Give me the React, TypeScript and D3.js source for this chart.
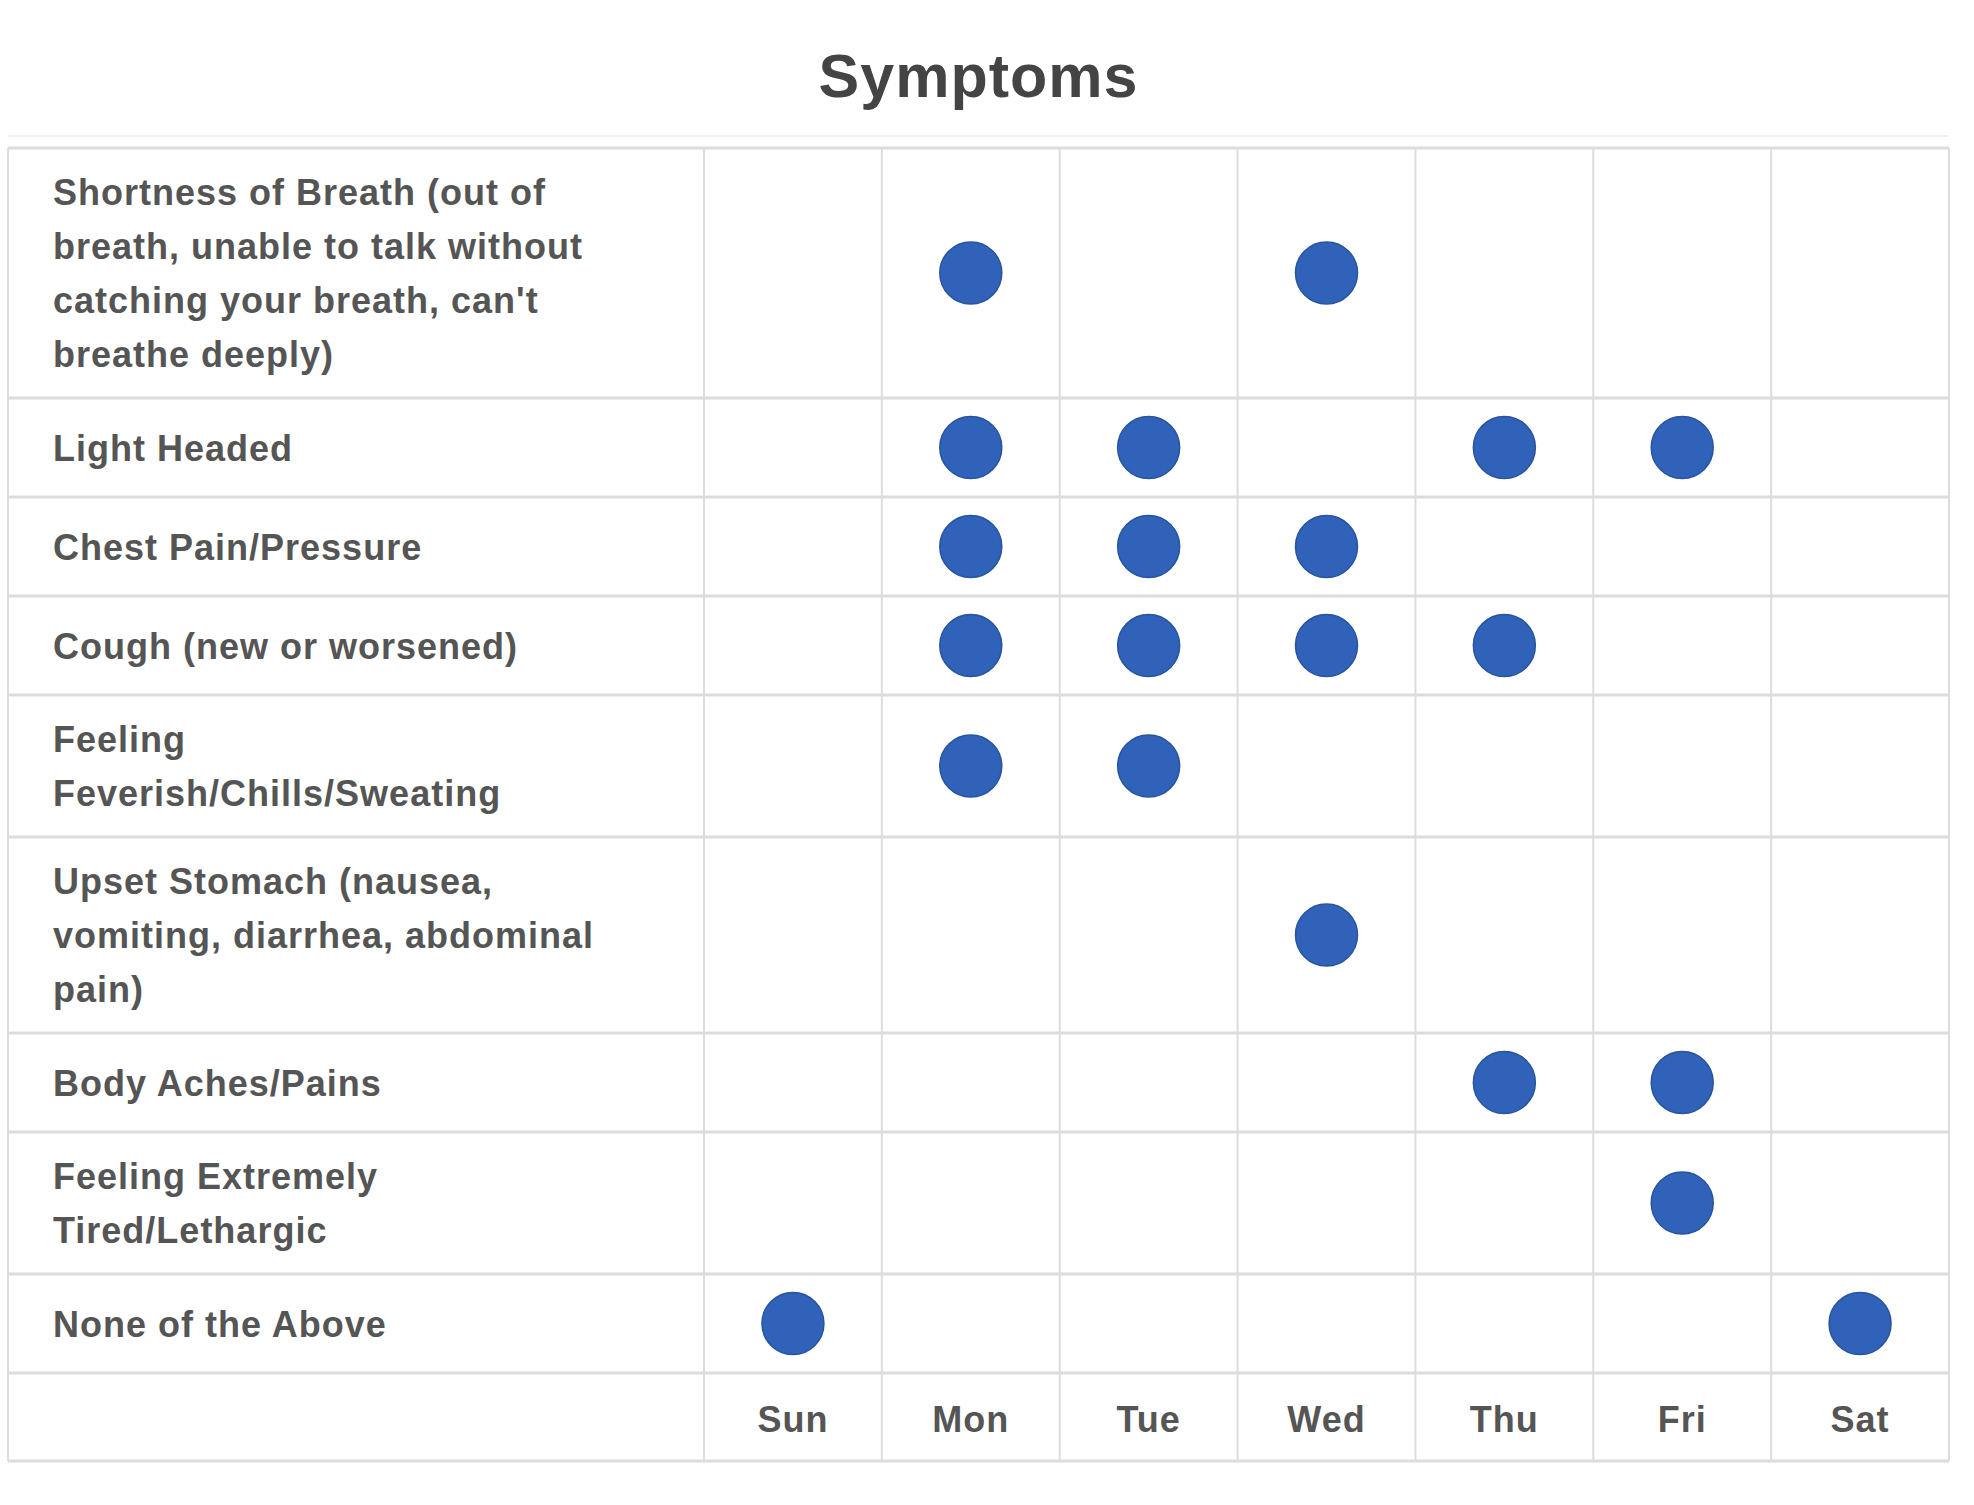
import React from "react";
import * as d3 from "d3";

const days = ["Sun", "Mon", "Tue", "Wed", "Thu", "Fri", "Sat"];

const symptomLines = [
  ["Shortness of Breath (out of", "breath, unable to talk without", "catching your breath, can't", "breathe deeply)"],
  ["Light Headed"],
  ["Chest Pain/Pressure"],
  ["Cough (new or worsened)"],
  ["Feeling", "Feverish/Chills/Sweating"],
  ["Upset Stomach (nausea,", "vomiting, diarrhea, abdominal", "pain)"],
  ["Body Aches/Pains"],
  ["Feeling Extremely", "Tired/Lethargic"],
  ["None of the Above"],
];

// days on which each symptom was reported (same order as symptomLines)
const reported = [
  ["Mon", "Wed"],
  ["Mon", "Tue", "Thu", "Fri"],
  ["Mon", "Tue", "Wed"],
  ["Mon", "Tue", "Wed", "Thu"],
  ["Mon", "Tue"],
  ["Wed"],
  ["Thu", "Fri"],
  ["Fri"],
  ["Sun", "Sat"],
];

const W = 1974;
const H = 1505;
const tableLeft = 8;
const tableRight = 1949;
const tableTop = 148;
const labelCol = 704;
const lineH = 54;
const fontFamily = "'Liberation Sans', Arial, Helvetica, sans-serif";

export default function App() {
  const rowHeights = symptomLines.map((l) => Math.max(99, 34 + lineH * l.length));
  const headerH = 34 + lineH;
  const rowTops = [tableTop, ...Array.from(d3.cumsum(rowHeights), (c) => tableTop + c)];
  const tableBottom = rowTops[rowTops.length - 1] + headerH;

  const x = d3.scaleBand().domain(days).range([labelCol, tableRight]);
  const y = d3
    .scaleOrdinal<number, number>()
    .domain(d3.range(symptomLines.length))
    .range(rowHeights.map((h, i) => rowTops[i] + h / 2));

  const dots = reported.flatMap((ds, i) => ds.map((d) => ({ row: i, day: d })));
  const headerMid = rowTops[rowTops.length - 1] + headerH / 2;

  return (
    <div style={{ position: "absolute", left: 0, top: 0 }}>
      <svg width={W} height={H} style={{ display: "block", background: "#fff" }}>
        <text
          x={(tableLeft + tableRight) / 2}
          y={97}
          textAnchor="middle"
          fontFamily={fontFamily}
          fontWeight="bold"
          fontSize={61}
          letterSpacing={1}
          fill="#444"
        >
          Symptoms
        </text>

        {/* faint line above the table */}
        <line x1={tableLeft} x2={tableRight} y1={136} y2={136} stroke="#f2f2f2" strokeWidth={2} />

        {/* horizontal rules */}
        {rowTops.map((t, i) => (
          <line key={"h" + i} x1={tableLeft} x2={tableRight} y1={t} y2={t} stroke="#dcdcdc" strokeWidth={3} />
        ))}
        <line x1={tableLeft} x2={tableRight} y1={tableBottom} y2={tableBottom} stroke="#dcdcdc" strokeWidth={3} />

        {/* vertical rules */}
        {[tableLeft, labelCol, ...days.map((d) => (x(d) as number) + x.bandwidth())].map((vx, i) => (
          <line key={"v" + i} x1={vx} x2={vx} y1={tableTop} y2={tableBottom} stroke="#dcdcdc" strokeWidth={2} />
        ))}

        {/* symptom labels */}
        {symptomLines.map((lines, i) => {
          const mid = y(i);
          const first = mid - ((lines.length - 1) * lineH) / 2;
          return (
            <text
              key={"l" + i}
              fontFamily={fontFamily}
              fontWeight="bold"
              fontSize={36}
              letterSpacing={1}
              fill="#555"
            >
              {lines.map((ln, j) => (
                <tspan key={j} x={53} y={first + j * lineH + 13}>
                  {ln}
                </tspan>
              ))}
            </text>
          );
        })}

        {/* dots */}
        {dots.map((d, i) => (
          <circle
            key={"c" + i}
            cx={(x(d.day) as number) + x.bandwidth() / 2}
            cy={y(d.row)}
            r={31}
            fill="#2f62b8"
            stroke="#27549f"
            strokeWidth={1.5}
          />
        ))}

        {/* day labels */}
        {days.map((d) => (
          <text
            key={d}
            x={(x(d) as number) + x.bandwidth() / 2}
            y={headerMid + 15}
            textAnchor="middle"
            fontFamily={fontFamily}
            fontWeight="bold"
            fontSize={36}
            letterSpacing={1}
            fill="#555"
          >
            {d}
          </text>
        ))}
      </svg>
    </div>
  );
}
